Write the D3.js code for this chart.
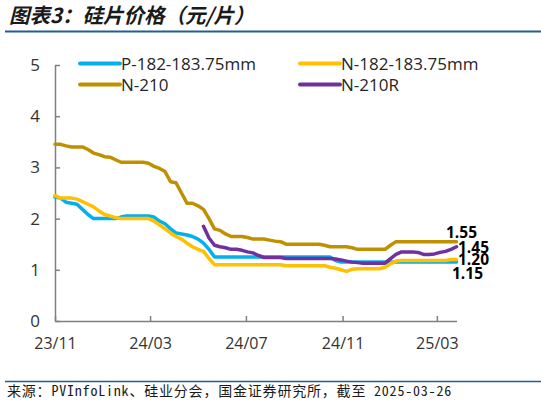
<!DOCTYPE html>
<html>
<head>
<meta charset="utf-8">
<script src="https://cdn.jsdelivr.net/npm/d3@7"></script>
<style>
  html, body { margin: 0; padding: 0; background: #fff; }
  svg { display: block; }
</style>
</head>
<body>
<svg id="chart" width="541" height="411"></svg>
<script>
// ---------- DATA ----------
const dates = [
  "2023-11-01","2023-11-08","2023-11-15","2023-11-22","2023-11-29","2023-12-06","2023-12-13","2023-12-20","2023-12-27",
  "2024-01-03","2024-01-10","2024-01-17","2024-01-24","2024-01-31","2024-02-07","2024-02-14","2024-02-21","2024-02-28",
  "2024-03-06","2024-03-13","2024-03-20","2024-03-27","2024-04-03","2024-04-10","2024-04-17","2024-04-24",
  "2024-05-01","2024-05-08","2024-05-15","2024-05-22","2024-05-29","2024-06-05","2024-06-12","2024-06-19","2024-06-26",
  "2024-07-03","2024-07-10","2024-07-17","2024-07-24","2024-07-31","2024-08-07","2024-08-14","2024-08-21","2024-08-28",
  "2024-09-04","2024-09-11","2024-09-18","2024-09-25","2024-10-02","2024-10-09","2024-10-16","2024-10-23","2024-10-30",
  "2024-11-06","2024-11-13","2024-11-20","2024-11-27","2024-12-04","2024-12-11","2024-12-18","2024-12-25",
  "2025-01-01","2025-01-08","2025-01-15","2025-01-22","2025-01-29","2025-02-05","2025-02-12","2025-02-19","2025-02-26",
  "2025-03-05","2025-03-12","2025-03-19","2025-03-26"
];

const seriesNames = ["P-182-183.75mm", "N-182-183.75mm", "N-210", "N-210R"];

const p182 = [
  2.42,2.40,2.32,2.30,2.28,2.18,2.08,2.00,2.00,
  2.00,2.00,2.00,2.03,2.05,2.05,2.05,2.05,2.05,
  2.03,1.95,1.90,1.80,1.72,1.70,1.68,1.65,
  1.60,1.52,1.40,1.25,1.25,1.25,1.25,1.25,1.25,
  1.25,1.25,1.25,1.25,1.25,1.25,1.25,1.25,1.25,
  1.25,1.25,1.25,1.25,1.25,1.25,1.25,1.18,1.15,
  1.15,1.15,1.15,1.15,1.15,1.15,1.15,1.15,
  1.15,1.15,1.15,1.15,1.15,1.15,1.15,1.15,1.15,
  1.15,1.15,1.15,1.15
];

const n182 = [
  2.45,2.40,2.40,2.40,2.38,2.33,2.28,2.23,2.15,
  2.08,2.05,2.02,2.00,2.00,2.00,2.00,2.00,2.00,
  1.95,1.88,1.80,1.72,1.65,1.60,1.52,1.45,
  1.40,1.36,1.22,1.10,1.10,1.10,1.10,1.10,1.10,
  1.10,1.10,1.10,1.10,1.10,1.10,1.10,1.08,1.08,
  1.08,1.08,1.08,1.08,1.08,1.08,1.05,1.03,1.00,
  0.97,1.01,1.02,1.02,1.02,1.02,1.02,1.05,
  1.12,1.17,1.18,1.18,1.18,1.18,1.18,1.18,1.18,
  1.18,1.18,1.20,1.20
];

const n210 = [
  3.45,3.45,3.42,3.40,3.40,3.40,3.35,3.28,3.25,
  3.21,3.20,3.15,3.10,3.10,3.10,3.10,3.10,3.08,
  3.02,2.98,2.92,2.72,2.70,2.50,2.30,2.30,
  2.25,2.18,2.00,1.80,1.77,1.70,1.65,1.65,1.65,
  1.63,1.60,1.60,1.60,1.58,1.56,1.55,1.50,1.50,
  1.50,1.50,1.50,1.50,1.50,1.48,1.45,1.45,1.45,
  1.45,1.43,1.40,1.40,1.40,1.40,1.40,1.40,
  1.48,1.55,1.55,1.55,1.55,1.55,1.55,1.55,1.55,
  1.55,1.55,1.55,1.55
];

const n210r = [
  null,null,null,null,null,null,null,null,null,
  null,null,null,null,null,null,null,null,null,
  null,null,null,null,null,null,null,null,
  null,1.85,1.62,1.48,1.45,1.43,1.40,1.40,1.38,
  1.35,1.33,1.28,1.24,1.24,1.24,1.24,1.22,1.22,
  1.22,1.22,1.22,1.22,1.22,1.22,1.22,1.21,1.19,
  1.17,1.15,1.14,1.13,1.13,1.13,1.13,1.13,
  1.22,1.30,1.35,1.35,1.35,1.34,1.30,1.30,1.31,
  1.34,1.36,1.40,1.45
];

const yTicks = [0, 1, 2, 3, 4, 5];
const xTickDates = ["2023-11-01", "2024-03-01", "2024-07-01", "2024-11-01", "2025-03-01"];

const titleText = "图表3：硅片价格（元/片）";
const sourceText = "来源：PVInfoLink、硅业分会，国金证券研究所，截至 2025-03-26";

// ---------- SETUP ----------
const colors = ["#00B0F0", "#FFC000", "#BF9000", "#7030A0"];
const seriesValues = [p182, n182, n210, n210r];
// end-label offsets (style, relative to last point)
const labelOffsets = [[-4.5, 17], [1.5, 5.4], [-10.5, -3.6], [1.5, 6]];

const parse = d3.utcParse("%Y-%m-%d");
const dateObjs = dates.map(parse);

const svg = d3.select("#chart");
svg.append("rect").attr("width", 541).attr("height", 411).attr("fill", "#fff");

const x = d3.scaleUtc()
  .domain([dateObjs[0], dateObjs[dateObjs.length - 1]])
  .range([55, 456.5]);
const y = d3.scaleLinear().domain([0, 5]).range([321, 65]);

// Title
svg.append("text")
  .attr("x", 9).attr("y", 23)
  .attr("font-family", "'Noto Sans CJK SC', sans-serif")
  .attr("font-size", 20.5)
  .attr("font-weight", "bold")
  .attr("font-style", "italic")
  .attr("fill", "#1a1a1a")
  .text(titleText);

svg.append("line")
  .attr("x1", 5).attr("x2", 541).attr("y1", 31.5).attr("y2", 31.5)
  .attr("stroke", "#1F5F99").attr("stroke-width", 1.8);

// Bottom rule and source
svg.append("line")
  .attr("x1", 5).attr("x2", 541).attr("y1", 381.5).attr("y2", 381.5)
  .attr("stroke", "#1F5F99").attr("stroke-width", 1.5);

svg.append("text")
  .attr("x", 7).attr("y", 396)
  .attr("font-family", "'Noto Sans Mono CJK SC', 'DejaVu Sans Mono', 'Noto Sans CJK SC', monospace")
  .attr("font-size", 14)
  .attr("letter-spacing", 0.8)
  .attr("fill", "#1a1a1a")
  .text(sourceText);

// Axes
const axisColor = "#808080";
const tickFont = "'Open Sans', 'Noto Sans', sans-serif";

const yAxis = d3.axisLeft(y).tickValues(yTicks).tickSizeInner(-5).tickSizeOuter(0).tickPadding(15)
  .tickFormat(d3.format("d"));
const gy = svg.append("g").attr("transform", "translate(55,0)").call(yAxis);
gy.selectAll("path, line").attr("stroke", axisColor).attr("stroke-width", 1.5);
gy.selectAll("text").attr("font-family", tickFont).attr("font-size", 17).attr("fill", "#333");

const xAxis = d3.axisBottom(x).tickValues(xTickDates.map(parse)).tickSizeInner(-5).tickSizeOuter(0).tickPadding(17)
  .tickFormat(d3.utcFormat("%y/%m"));
const gx = svg.append("g").attr("transform", "translate(0,321)").call(xAxis);
gx.selectAll("path, line").attr("stroke", axisColor).attr("stroke-width", 1.5);
gx.selectAll("text").attr("font-family", tickFont).attr("font-size", 16).attr("fill", "#333");

// Lines
const line = d3.line()
  .defined(d => d.v !== null)
  .x(d => x(d.date))
  .y(d => y(d.v));

seriesValues.forEach((vals, si) => {
  const pts = vals.map((v, i) => ({ date: dateObjs[i], v }));
  svg.append("path")
    .datum(pts)
    .attr("fill", "none")
    .attr("stroke", colors[si])
    .attr("stroke-width", 3.5)
    .attr("stroke-linejoin", "round")
    .attr("stroke-linecap", "round")
    .attr("d", line);
});

// End labels
const fmt = d3.format(".2f");
seriesValues.forEach((vals, si) => {
  const last = vals.length - 1;
  svg.append("text")
    .attr("x", x(dateObjs[last]) + labelOffsets[si][0])
    .attr("y", y(vals[last]) + labelOffsets[si][1])
    .attr("font-family", tickFont)
    .attr("font-size", 15.5)
    .attr("font-weight", "bold")
    .attr("fill", "#000")
    .text(fmt(vals[last]));
});

// Legend
const legendPos = [[80, 63.5], [300, 63.5], [80, 84.5], [300, 84.5]];
seriesNames.forEach((name, si) => {
  const [lx, ly] = legendPos[si];
  svg.append("line")
    .attr("x1", lx).attr("x2", lx + 40).attr("y1", ly).attr("y2", ly)
    .attr("stroke", colors[si]).attr("stroke-width", 4).attr("stroke-linecap", "round");
  svg.append("text")
    .attr("x", lx + 41).attr("y", ly)
    .attr("dominant-baseline", "central")
    .attr("font-family", tickFont)
    .attr("font-size", 17)
    .attr("fill", "#262626")
    .text(name);
});
</script>
</body>
</html>
